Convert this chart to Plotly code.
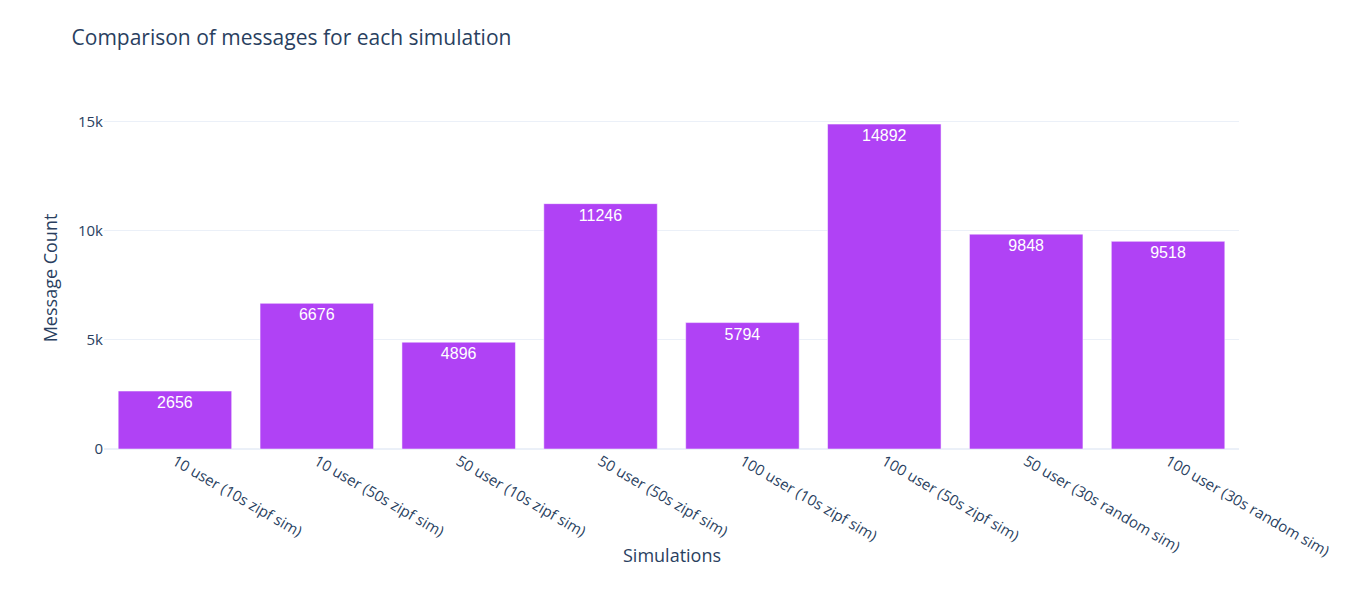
import plotly.graph_objects as go

simulations = [
    "10 user (10s zipf sim)",
    "10 user (50s zipf sim)",
    "50 user (10s zipf sim)",
    "50 user (50s zipf sim)",
    "100 user (10s zipf sim)",
    "100 user (50s zipf sim)",
    "50 user (30s random sim)",
    "100 user (30s random sim)",
]
message_counts = [2656, 6676, 4896, 11246, 5794, 14892, 9848, 9518]

fig = go.Figure()
fig.add_trace(go.Bar(
    x=simulations,
    y=message_counts,
    text=message_counts,
    textposition="auto",
    textfont=dict(family="Arial", size=16),
    marker_color="#b042f5",
))

fig.update_layout(
    template="plotly_white",
    title=dict(text="Comparison of messages for each simulation",
               font=dict(size=21), x=0.047, y=0.95, yanchor="middle"),
    xaxis=dict(tickangle=30, tickfont=dict(size=15), automargin=False),
    yaxis=dict(title=dict(text="Message Count", font=dict(size=18)),
               tickfont=dict(size=15), dtick=5000, automargin=False),
    margin=dict(l=96, r=121, t=99, b=156),
    width=1352,
    height=597,
)

# x axis title placed as annotation so it sits closer to the rotated labels
fig.add_annotation(text="Simulations", xref="paper", yref="paper",
                   x=0.5, y=-0.31, yanchor="middle", showarrow=False,
                   font=dict(size=18, color="#2a3f5f"))

fig.write_html("out.html")
